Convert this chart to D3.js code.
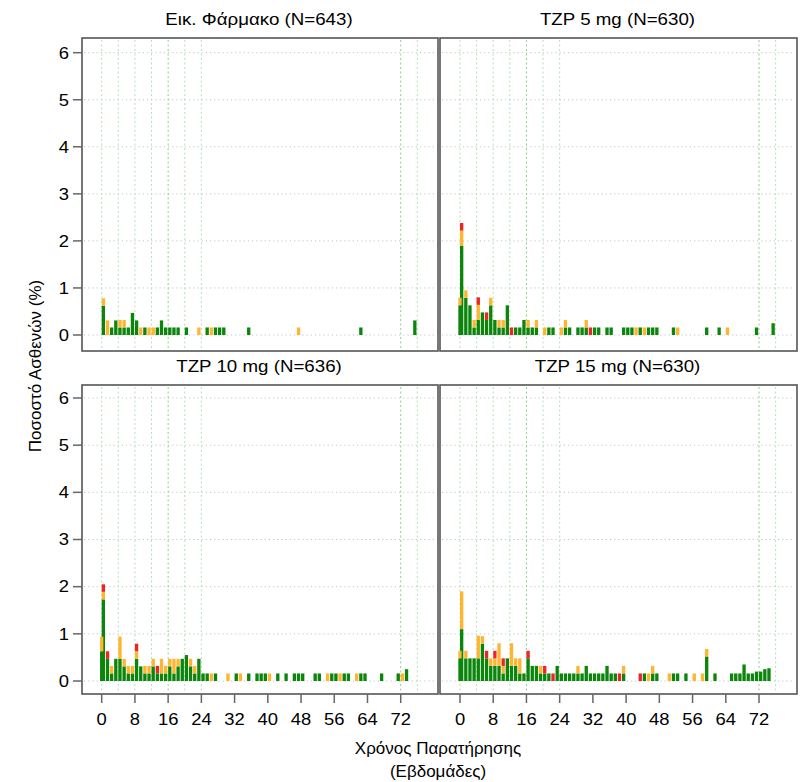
<!DOCTYPE html>
<html>
<head>
<meta charset="utf-8">
<script src="https://cdn.jsdelivr.net/npm/d3@7"></script>
<style>
body { margin: 0; background: #fff; }
text { font-family: "Liberation Sans", Arial, sans-serif; fill: #000; }
</style>
</head>
<body>
<div id="chart"></div>
<script>
// percent of patients per week, stacked: [week, green, orange, red]
const placebo = [
    [0, 0.62, 0.16, 0], [1, 0, 0.31, 0], [2, 0.16, 0, 0], [3, 0.31, 0, 0], [4, 0.16, 0.16, 0],
    [5, 0.16, 0.16, 0], [6, 0.16, 0, 0], [7, 0.47, 0, 0], [8, 0.31, 0, 0], [9, 0, 0.16, 0],
    [10, 0.16, 0, 0], [11, 0, 0.16, 0], [12, 0, 0.16, 0], [13, 0.16, 0, 0], [14, 0.31, 0, 0],
    [15, 0.16, 0, 0], [16, 0.16, 0, 0], [17, 0.16, 0, 0], [18, 0.16, 0, 0], [20, 0.16, 0, 0],
    [23, 0, 0.16, 0], [25, 0.16, 0, 0], [26, 0, 0.16, 0], [27, 0.16, 0, 0], [28, 0.16, 0, 0],
    [29, 0.16, 0, 0], [35, 0.16, 0, 0], [47, 0, 0.16, 0], [62, 0.16, 0, 0], [75, 0.31, 0, 0]
]

const tzp5 = [
    [0, 1.9, 0.32, 0.16], [-0.4, 0.63, 0.16, 0], [1, 0.79, 0.16, 0], [2, 0.63, 0, 0], [3, 0.16, 0.16, 0],
    [4, 0.32, 0.32, 0.16], [5, 0.48, 0, 0], [6, 0.32, 0, 0.16], [7, 0.63, 0.16, 0], [8, 0.32, 0, 0],
    [9, 0.16, 0.16, 0], [10, 0.16, 0.16, 0], [11, 0.63, 0, 0], [12, 0, 0, 0.16], [13, 0.16, 0, 0],
    [14, 0.16, 0, 0], [15, 0.32, 0, 0], [16, 0.16, 0.16, 0], [17, 0.16, 0, 0], [18, 0.16, 0.16, 0],
    [20, 0, 0.16, 0], [21, 0.16, 0, 0], [22, 0.16, 0, 0], [24, 0, 0.16, 0], [25, 0.16, 0.16, 0],
    [26, 0.16, 0, 0], [28, 0.16, 0, 0], [29, 0.16, 0, 0], [30, 0.16, 0.16, 0], [31, 0, 0, 0.16],
    [32, 0.16, 0, 0], [33, 0.16, 0, 0], [35, 0.16, 0, 0], [36, 0.16, 0, 0], [39, 0.16, 0, 0],
    [40, 0.16, 0, 0], [41, 0.16, 0, 0], [42, 0, 0.16, 0], [43, 0.16, 0, 0], [44, 0, 0.16, 0],
    [45, 0.16, 0, 0], [46, 0.16, 0, 0], [47, 0.16, 0, 0], [51, 0.16, 0, 0], [52, 0, 0.16, 0],
    [59, 0.16, 0, 0], [62, 0.16, 0, 0], [64, 0, 0.16, 0], [71, 0.16, 0, 0], [75, 0.25, 0, 0]
]

const tzp10 = [
    [0, 1.73, 0.16, 0.16], [-0.4, 0.63, 0.31, 0], [1, 0.47, 0, 0.16], [2, 0.16, 0.16, 0], [3, 0.47, 0, 0],
    [4, 0.47, 0.47, 0], [5, 0.31, 0.16, 0], [6, 0.16, 0.16, 0], [7, 0.16, 0.16, 0], [8, 0.47, 0.16, 0.16],
    [9, 0.31, 0, 0], [10, 0.16, 0.16, 0], [11, 0.16, 0.16, 0], [12, 0.31, 0.16, 0], [13, 0.16, 0, 0.16],
    [14, 0.16, 0.31, 0], [15, 0.16, 0.16, 0], [16, 0.31, 0.16, 0], [17, 0.16, 0.31, 0], [18, 0.31, 0.16, 0],
    [19, 0.47, 0, 0], [20, 0.55, 0, 0], [21, 0.31, 0.16, 0], [22, 0.16, 0.16, 0], [23, 0.47, 0, 0],
    [24, 0.16, 0, 0], [25, 0.16, 0, 0], [26, 0, 0.16, 0], [27, 0.16, 0, 0], [30, 0, 0.16, 0],
    [32, 0.16, 0, 0], [33, 0, 0.16, 0], [35, 0.16, 0, 0], [37, 0.16, 0, 0], [38, 0.16, 0, 0],
    [39, 0.16, 0, 0], [40, 0, 0.16, 0], [42, 0.16, 0, 0], [44, 0.16, 0, 0], [46, 0.16, 0, 0],
    [47, 0.16, 0, 0], [48, 0.16, 0, 0], [51, 0.16, 0, 0], [52, 0.16, 0, 0], [54, 0, 0.16, 0],
    [55, 0.16, 0, 0], [56, 0.16, 0, 0], [57, 0, 0.16, 0], [58, 0.16, 0, 0], [59, 0.16, 0, 0],
    [61, 0, 0.16, 0], [62, 0.16, 0, 0], [63, 0.16, 0, 0], [67, 0.16, 0, 0], [71, 0.16, 0, 0],
    [72, 0, 0.16, 0], [73, 0.25, 0, 0]
]

const tzp15 = [
    [0, 1.1, 0.8, 0], [-0.4, 0.48, 0.16, 0], [1, 0.48, 0.16, 0], [2, 0.48, 0, 0], [3, 0.48, 0, 0],
    [4, 0.48, 0.48, 0], [5, 0.79, 0.16, 0], [6, 0.48, 0, 0.16], [7, 0.32, 0.16, 0], [8, 0.32, 0.16, 0.16],
    [9, 0.32, 0.48, 0], [10, 0.16, 0.16, 0.16], [11, 0.48, 0, 0], [12, 0.32, 0.48, 0], [13, 0.32, 0.16, 0],
    [14, 0.16, 0.32, 0], [15, 0.16, 0, 0], [16, 0.48, 0, 0.16], [17, 0.32, 0, 0], [18, 0.32, 0, 0],
    [19, 0.16, 0.16, 0], [20, 0.16, 0, 0.16], [21, 0.16, 0, 0], [22, 0, 0, 0.16], [23, 0.32, 0, 0],
    [24, 0.16, 0, 0], [25, 0.16, 0, 0], [26, 0.16, 0, 0], [27, 0.16, 0, 0], [28, 0.16, 0.16, 0],
    [29, 0.16, 0, 0], [30, 0.32, 0, 0], [31, 0.16, 0, 0], [32, 0.16, 0, 0], [33, 0.16, 0, 0],
    [34, 0.16, 0, 0], [35, 0.32, 0, 0], [36, 0.16, 0, 0], [37, 0.16, 0, 0], [38, 0, 0, 0.16],
    [39, 0.16, 0.16, 0], [43, 0, 0, 0.16], [44, 0.16, 0, 0], [45, 0, 0.16, 0], [46, 0.16, 0.16, 0],
    [47, 0.16, 0, 0], [50, 0, 0.16, 0], [51, 0.16, 0, 0], [52, 0.16, 0, 0], [54, 0.16, 0, 0],
    [56, 0, 0.16, 0], [58, 0, 0.16, 0], [59, 0.52, 0.16, 0], [61, 0.16, 0, 0], [65, 0.16, 0, 0],
    [66, 0.16, 0, 0], [67, 0.16, 0, 0], [68, 0.35, 0, 0], [69, 0.16, 0, 0], [70, 0.16, 0, 0],
    [71, 0.2, 0, 0], [72, 0.2, 0, 0], [73, 0.25, 0, 0], [74, 0.27, 0, 0]
]

const titles = ["Εικ. Φάρμακο (N=643)", "TZP 5 mg (N=630)", "TZP 10 mg (N=636)", "TZP 15 mg (N=630)"]
const xTicks = [0, 8, 16, 24, 32, 40, 48, 56, 64, 72]
const yTicks = [0, 1, 2, 3, 4, 5, 6]
const gridWeeks = [0, 4, 8, 12, 16, 20, 24, 72, 76]
const colors = ["#0b850b", "#ffb52e", "#f02424"]

const yLabel = "Ποσοστό Ασθενών (%)"
const xLabel = ["Χρόνος Παρατήρησης", "(Εβδομάδες)"]

drawChart()

// text drawn at (x, y) and stretched horizontally by sx
function stretchedText(parent, x, y, sx, anchor, size, str) {
    return parent.append("text")
        .attr("transform", `translate(${x},${y}) scale(${sx},1)`)
        .attr("text-anchor", anchor)
        .style("font-size", size + "px")
        .text(str)
}

function drawChart() {
    const width = 802, height = 782

    // panel boxes: left, right, top, bottom, y of 0 and y of 6
    const cols = [{ left: 82, right: 438, zeroX: 101.7 }, { left: 440, right: 797, zeroX: 460 }]
    const rows = [{ top: 38, bottom: 351, y0: 335, y6: 52.7 }, { top: 385, bottom: 694, y0: 681, y6: 398 }]
    const weekPx = 4.153

    const svg = d3.select("#chart").append("svg")
        .attr("width", width)
        .attr("height", height)

    const panels = [placebo, tzp5, tzp10, tzp15]

    panels.forEach((data, i) => {
        let col = cols[i % 2]
        let row = rows[Math.floor(i / 2)]

        let x = d3.scaleLinear()
            .domain([0, 72])
            .range([col.zeroX, col.zeroX + 72 * weekPx])
        let y = d3.scaleLinear()
            .domain([0, 6])
            .range([row.y0, row.y6])

        let g = svg.append("g")

        g.append("rect")
            .attr("x", col.left).attr("y", row.top)
            .attr("width", col.right - col.left).attr("height", row.bottom - row.top)
            .attr("fill", "#fff")

        // horizontal grid
        g.selectAll(".hgrid").data(yTicks).enter().append("line")
            .attr("x1", col.left + 2).attr("x2", col.right - 2)
            .attr("y1", d => y(d)).attr("y2", d => y(d))
            .attr("stroke", "#c4c4c4").attr("stroke-width", 1)
            .attr("stroke-dasharray", "1.2,3")

        // vertical grid
        g.selectAll(".vgrid").data(gridWeeks).enter().append("line")
            .attr("x1", d => x(d)).attr("x2", d => x(d))
            .attr("y1", row.top + 2).attr("y2", row.bottom - 2)
            .attr("stroke", d => (d === 16 || d === 72) ? "#8fcf8f" : "#b5e0b5").attr("stroke-width", 1)
            .attr("stroke-dasharray", "2,2.5")

        // stacked bars
        data.forEach(d => {
            let base = 0
            for (let k = 0; k < 3; k++) {
                let v = d[k + 1]
                if (v <= 0) continue
                g.append("rect")
                    .attr("x", x(d[0]))
                    .attr("width", x(d[0] + 0.8) - x(d[0]))
                    .attr("y", y(base + v))
                    .attr("height", y(base) - y(base + v))
                    .attr("fill", colors[k])
                base += v
            }
        })

        g.append("rect")
            .attr("x", col.left).attr("y", row.top)
            .attr("width", col.right - col.left).attr("height", row.bottom - row.top)
            .attr("fill", "none")
            .attr("stroke", "#555").attr("stroke-width", 1.6)

        stretchedText(svg, (col.left + col.right) / 2 - 1, row.top - 13, 1.17, "middle", 16, titles[i])

        // y axis on left panels
        if (i % 2 === 0) {
            let axis = svg.append("g")
            axis.selectAll("line").data(yTicks).enter().append("line")
                .attr("x1", col.left - 9).attr("x2", col.left)
                .attr("y1", d => y(d)).attr("y2", d => y(d))
                .attr("stroke", "#666").attr("stroke-width", 1.5)
            yTicks.forEach(t => {
                stretchedText(axis, col.left - 13, y(t) + 5.8, 1.15, "end", 16, t)
            })
        }

        // x axis on bottom panels
        if (i >= 2) {
            let axis = svg.append("g")
            axis.selectAll("line").data(xTicks).enter().append("line")
                .attr("x1", d => x(d)).attr("x2", d => x(d))
                .attr("y1", row.bottom).attr("y2", row.bottom + 9)
                .attr("stroke", "#666").attr("stroke-width", 1.5)
            xTicks.forEach(t => {
                stretchedText(axis, x(t), row.bottom + 31, 1.15, "middle", 16, t)
            })
        }
    })

    svg.append("text")
        .attr("transform", "translate(41,366)rotate(-90)")
        .attr("text-anchor", "middle")
        .style("font-size", "17px")
        .text(yLabel)

    svg.selectAll(".xlabel").data(xLabel).enter().append("text")
        .attr("x", 438)
        .attr("y", (d, i) => 754 + i * 23)
        .attr("text-anchor", "middle")
        .style("font-size", "17px")
        .text(d => d)
}
</script>
</body>
</html>
